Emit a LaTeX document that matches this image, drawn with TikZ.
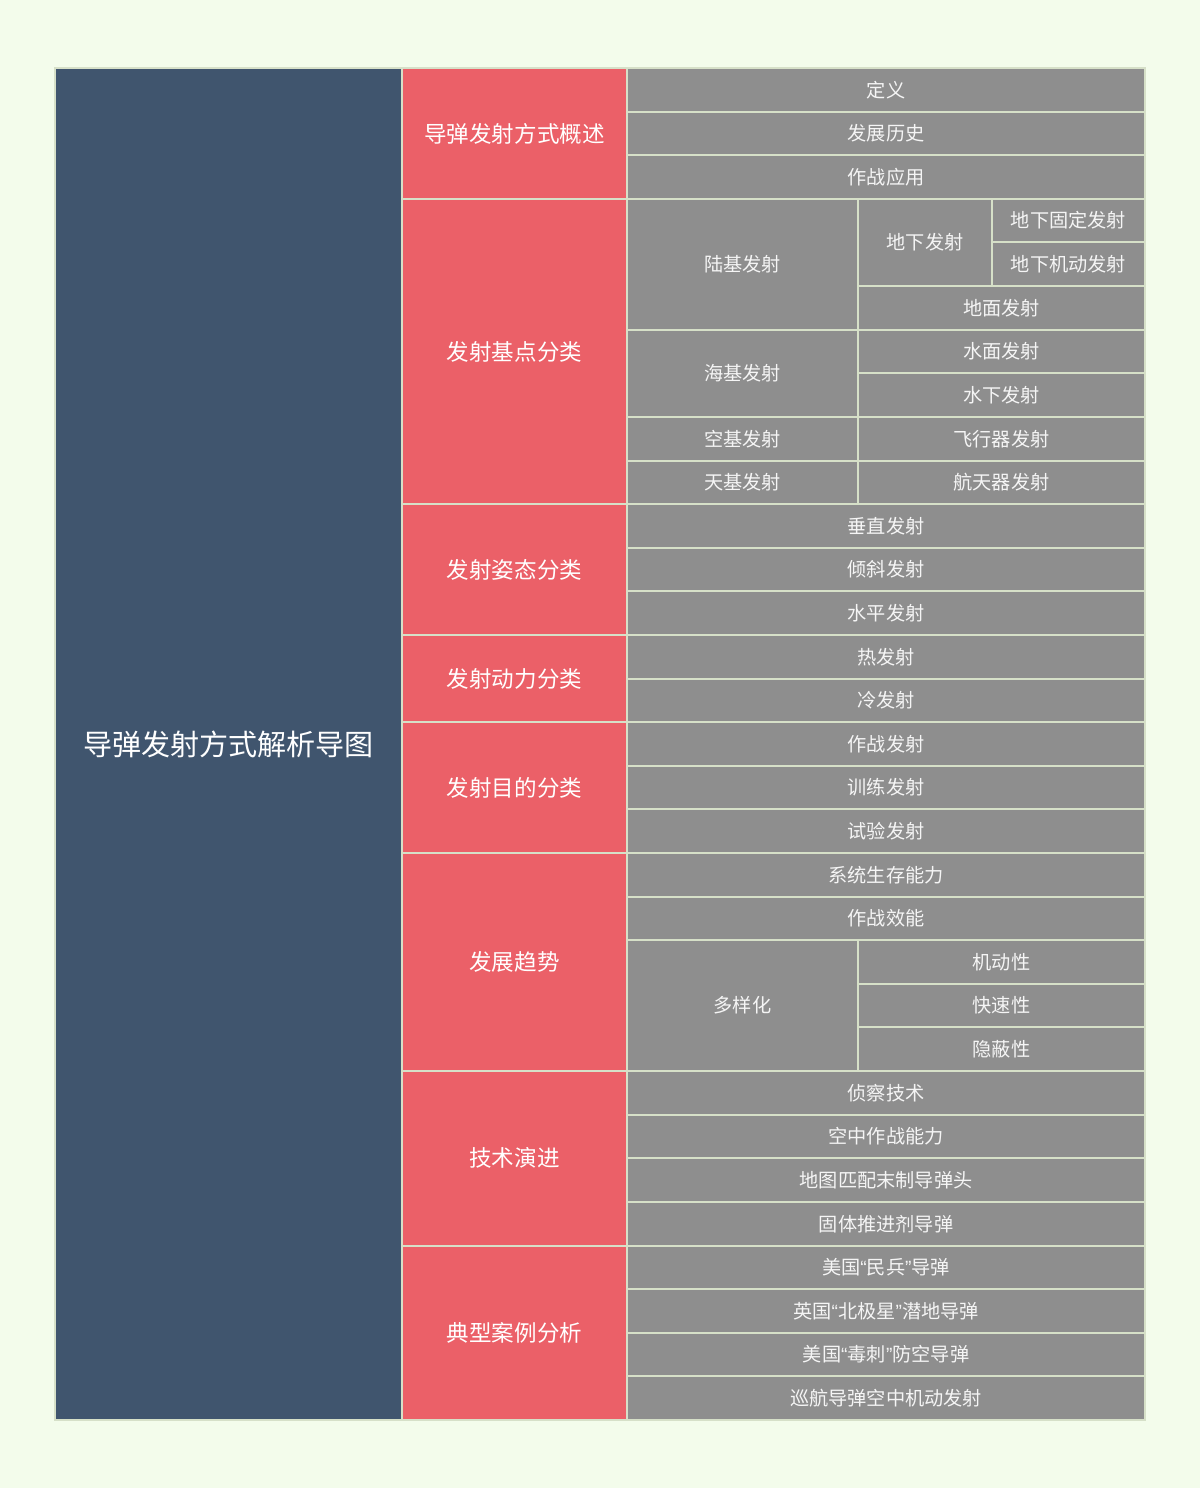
\documentclass[tikz,border=0pt]{standalone}
\usepackage{fontspec}
\setmainfont{Noto Sans CJK SC}
\newfontfamily\latinq{Liberation Sans}
\definecolor{bgc}{HTML}{F3FCEB}
\definecolor{linec}{HTML}{D6E0C8}
\definecolor{rootc}{HTML}{40556E}
\definecolor{midc}{HTML}{EB6068}
\definecolor{leafc}{HTML}{8E8E8E}
\begin{document}
\def\rh{43.6129}
\newcommand\myoq{{\latinq “}}
\newcommand\mycq{{\latinq ”}}
\newcommand\cellbox[7]{%
  \node[cellbase,#6,minimum width={(#3-#2)*0.75pt},minimum height={(#5-#4)*\rh*0.75pt}]
    (#1) at ({(#2+#3)/2},{68+(#4+#5)/2*\rh}) {#7};}
\begin{tikzpicture}[x=0.75pt,y=-0.75pt,
  cellbase/.style={draw=linec,line width=1.5pt,inner sep=0pt,outer sep=0pt,text=white,align=center},
  rootcell/.style={fill=rootc,font=\fontsize{21.8}{26}\selectfont},
  midcell/.style={fill=midc,font=\fontsize{16.9}{20}\selectfont},
  leafcell/.style={fill=leafc,font=\fontsize{14.4}{17}\selectfont,text=white!96!black}]
\fill[bgc] (0,0) rectangle (1200,1488);
\useasboundingbox (0,0) rectangle (1200,1488);
% root
\cellbox{root}{55}{402}{0}{31}{rootcell}{导弹发射方式解析导图}
% level 2
\cellbox{m1}{402}{627}{0}{3}{midcell}{导弹发射方式概述}
\cellbox{m2}{402}{627}{3}{10}{midcell}{发射基点分类}
\cellbox{m3}{402}{627}{10}{13}{midcell}{发射姿态分类}
\cellbox{m4}{402}{627}{13}{15}{midcell}{发射动力分类}
\cellbox{m5}{402}{627}{15}{18}{midcell}{发射目的分类}
\cellbox{m6}{402}{627}{18}{23}{midcell}{发展趋势}
\cellbox{m7}{402}{627}{23}{27}{midcell}{技术演进}
\cellbox{m8}{402}{627}{27}{31}{midcell}{典型案例分析}
% overview
\cellbox{a1}{627}{1145}{0}{1}{leafcell}{定义}
\cellbox{a2}{627}{1145}{1}{2}{leafcell}{发展历史}
\cellbox{a3}{627}{1145}{2}{3}{leafcell}{作战应用}
% base
\cellbox{b1}{627}{858}{3}{6}{leafcell}{陆基发射}
\cellbox{b11}{858}{992}{3}{5}{leafcell}{地下发射}
\cellbox{b111}{992}{1145}{3}{4}{leafcell}{地下固定发射}
\cellbox{b112}{992}{1145}{4}{5}{leafcell}{地下机动发射}
\cellbox{b12}{858}{1145}{5}{6}{leafcell}{地面发射}
\cellbox{b2}{627}{858}{6}{8}{leafcell}{海基发射}
\cellbox{b21}{858}{1145}{6}{7}{leafcell}{水面发射}
\cellbox{b22}{858}{1145}{7}{8}{leafcell}{水下发射}
\cellbox{b3}{627}{858}{8}{9}{leafcell}{空基发射}
\cellbox{b31}{858}{1145}{8}{9}{leafcell}{飞行器发射}
\cellbox{b4}{627}{858}{9}{10}{leafcell}{天基发射}
\cellbox{b41}{858}{1145}{9}{10}{leafcell}{航天器发射}
% attitude
\cellbox{c1}{627}{1145}{10}{11}{leafcell}{垂直发射}
\cellbox{c2}{627}{1145}{11}{12}{leafcell}{倾斜发射}
\cellbox{c3}{627}{1145}{12}{13}{leafcell}{水平发射}
% power
\cellbox{d1}{627}{1145}{13}{14}{leafcell}{热发射}
\cellbox{d2}{627}{1145}{14}{15}{leafcell}{冷发射}
% purpose
\cellbox{e1}{627}{1145}{15}{16}{leafcell}{作战发射}
\cellbox{e2}{627}{1145}{16}{17}{leafcell}{训练发射}
\cellbox{e3}{627}{1145}{17}{18}{leafcell}{试验发射}
% trends
\cellbox{f1}{627}{1145}{18}{19}{leafcell}{系统生存能力}
\cellbox{f2}{627}{1145}{19}{20}{leafcell}{作战效能}
\cellbox{f3}{627}{858}{20}{23}{leafcell}{多样化}
\cellbox{f31}{858}{1145}{20}{21}{leafcell}{机动性}
\cellbox{f32}{858}{1145}{21}{22}{leafcell}{快速性}
\cellbox{f33}{858}{1145}{22}{23}{leafcell}{隐蔽性}
% tech
\cellbox{g1}{627}{1145}{23}{24}{leafcell}{侦察技术}
\cellbox{g2}{627}{1145}{24}{25}{leafcell}{空中作战能力}
\cellbox{g3}{627}{1145}{25}{26}{leafcell}{地图匹配末制导弹头}
\cellbox{g4}{627}{1145}{26}{27}{leafcell}{固体推进剂导弹}
% cases
\cellbox{h1}{627}{1145}{27}{28}{leafcell}{美国\myoq 民兵\mycq 导弹}
\cellbox{h2}{627}{1145}{28}{29}{leafcell}{英国\myoq 北极星\mycq 潜地导弹}
\cellbox{h3}{627}{1145}{29}{30}{leafcell}{美国\myoq 毒刺\mycq 防空导弹}
\cellbox{h4}{627}{1145}{30}{31}{leafcell}{巡航导弹空中机动发射}
\end{tikzpicture}
\end{document}
